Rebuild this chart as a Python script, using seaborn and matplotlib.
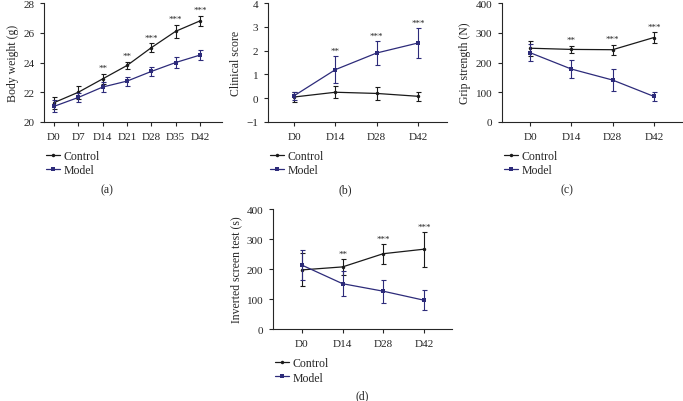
import matplotlib
matplotlib.use("Agg")
import matplotlib.pyplot as plt
import seaborn as sns
import pandas as pd

# data (mean and error bar half-length)
days_a = ['D0', 'D7', 'D14', 'D21', 'D28', 'D35', 'D42']
bw_ctrl = [21.3, 22.0, 22.9, 23.8, 25.0, 26.1, 26.8]
bw_ctrl_err = [0.4, 0.45, 0.35, 0.25, 0.3, 0.45, 0.35]
bw_model = [21.05, 21.65, 22.35, 22.75, 23.4, 24.0, 24.5]
bw_model_err = [0.4, 0.3, 0.35, 0.3, 0.3, 0.4, 0.35]
bw_stars = ['', '', '**', '**', '***', '***', '***']

days = ['D0', 'D14', 'D28', 'D42']
cs_ctrl = [0.05, 0.25, 0.2, 0.08]
cs_ctrl_err = [0.2, 0.25, 0.28, 0.18]
cs_model = [0.1, 1.2, 1.9, 2.32]
cs_model_err = [0.18, 0.58, 0.5, 0.63]

gs_ctrl = [248, 244, 243, 284]
gs_ctrl_err = [25, 13, 17, 17]
gs_model = [233, 178, 141, 86]
gs_model_err = [28, 30, 37, 15]

inv_ctrl = [197, 207, 251, 266]
inv_ctrl_err = [55, 27, 33, 58]
inv_model = [213, 151, 126, 96]
inv_model_err = [50, 42, 38, 33]

stars = ['', '**', '***', '***']

sns.set_style("ticks")
plt.rcParams['font.family'] = ['Liberation Serif', 'DejaVu Serif']

CTRL = '#1a1a1a'
MODEL = '#2d2b7a'

W, H = 683, 402
fig = plt.figure(figsize=(W / 100, H / 100), dpi=100)


def px_axes(left, right, top, bottom):
    return fig.add_axes([left / W, 1 - bottom / H, (right - left) / W, (bottom - top) / H])


def panel(ax, x, ctrl, ctrl_err, model, model_err, star_list, ylim, yticks, ylabel, xlim):
    df = pd.DataFrame({
        'day': x * 2,
        'value': ctrl + model,
        'group': ['Control'] * len(x) + ['Model'] * len(x),
    })
    sns.lineplot(data=df, x='day', y='value', hue='group', style='group',
                 palette={'Control': CTRL, 'Model': MODEL},
                 markers={'Control': 'o', 'Model': 's'}, dashes=False,
                 markersize=2.5, markeredgewidth=0, linewidth=0.9, ax=ax, sort=False)
    ax.errorbar(x, ctrl, yerr=ctrl_err, fmt='none', ecolor=CTRL, elinewidth=0.8, capsize=1.8, capthick=0.8)
    ax.errorbar(x, model, yerr=model_err, fmt='none', ecolor=MODEL, elinewidth=0.8, capsize=1.8, capthick=0.8)
    for i, s in enumerate(star_list):
        if s:
            top = max(ctrl[i] + ctrl_err[i], model[i] + model_err[i])
            ax.annotate(s, (x[i], top), xytext=(0, 1), textcoords='offset points',
                        ha='center', va='bottom', fontsize=6.5)
    ax.set_ylim(*ylim)
    ax.set_yticks(yticks)
    ax.set_xlim(*xlim)
    ax.set_xlabel('')
    ax.set_ylabel(ylabel, fontsize=8.5, labelpad=3)
    ax.tick_params(labelsize=8, length=3, width=0.8, pad=4)
    for sp in ['left', 'bottom']:
        ax.spines[sp].set_linewidth(0.8)
    sns.despine(ax=ax)
    h, l = ax.get_legend_handles_labels()
    ax.legend(h, l, loc='upper left', bbox_to_anchor=(0.01, -0.235), frameon=False,
              fontsize=8.5, handlelength=1.2, handletextpad=0.3, labelspacing=0.2,
              borderaxespad=0, borderpad=0)


ax_a = px_axes(44, 222, 4, 123)
panel(ax_a, days_a, bw_ctrl, bw_ctrl_err, bw_model, bw_model_err, bw_stars,
      (20, 28), [20, 22, 24, 26, 28], 'Body weight (g)', (-0.41, 6.9))

ax_b = px_axes(268, 447, 4, 123)
panel(ax_b, days, cs_ctrl, cs_ctrl_err, cs_model, cs_model_err, stars,
      (-1, 4), [-1, 0, 1, 2, 3, 4], 'Clinical score', (-0.63, 3.7))

ax_c = px_axes(502, 682, 4, 123)
panel(ax_c, days, gs_ctrl, gs_ctrl_err, gs_model, gs_model_err, stars,
      (0, 400), [0, 100, 200, 300, 400], 'Grip strength (N)', (-0.68, 3.68))

ax_d = px_axes(273, 452, 210, 330)
panel(ax_d, days, inv_ctrl, inv_ctrl_err, inv_model, inv_model_err, stars,
      (0, 400), [0, 100, 200, 300, 400], 'Inverted screen test (s)', (-0.71, 3.69))

for lab, xp, yp in [('(a)', 107, 190), ('(b)', 345, 190), ('(c)', 567, 190), ('(d)', 362, 396)]:
    fig.text(xp / W, 1 - yp / H, lab, ha='center', va='center', fontsize=8.5)

fig.savefig('out.png', dpi=100)
